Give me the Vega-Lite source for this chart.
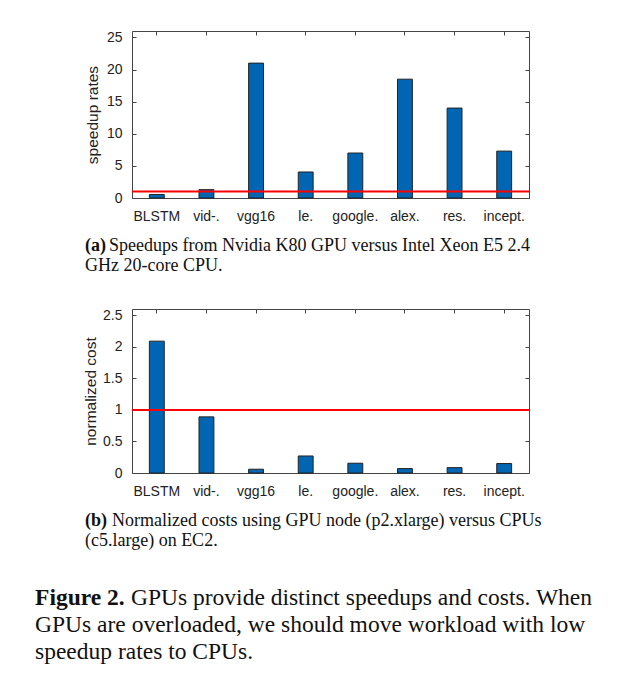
{
  "$schema": "https://vega.github.io/schema/vega-lite/v6.json",
  "background": "white",
  "padding": {"left": 35, "top": 29, "right": 5, "bottom": 5},
  "datasets": {
    "speedup": [
      {"model": "BLSTM", "value": 0.55},
      {"model": "vid-.", "value": 1.3},
      {"model": "vgg16", "value": 21.0},
      {"model": "le.", "value": 4.05},
      {"model": "google.", "value": 7.0},
      {"model": "alex.", "value": 18.5},
      {"model": "res.", "value": 14.0},
      {"model": "incept.", "value": 7.3}
    ],
    "cost": [
      {"model": "BLSTM", "value": 2.09},
      {"model": "vid-.", "value": 0.89},
      {"model": "vgg16", "value": 0.06},
      {"model": "le.", "value": 0.27},
      {"model": "google.", "value": 0.155},
      {"model": "alex.", "value": 0.07},
      {"model": "res.", "value": 0.085},
      {"model": "incept.", "value": 0.15}
    ],
    "baseline": [{"level": 1}]
  },
  "config": {
    "view": {"stroke": "#444", "strokeWidth": 1},
    "axis": {
      "labelFont": "Liberation Sans",
      "labelFontSize": 14,
      "labelColor": "#222",
      "titleFont": "Liberation Sans",
      "titleFontSize": 15.5,
      "titleFontWeight": "normal",
      "titleColor": "#222",
      "domain": false,
      "grid": false,
      "tickColor": "#444",
      "tickSize": -4,
      "zindex": 1
    },
    "title": {
      "font": "Liberation Serif",
      "subtitleFont": "Liberation Serif",
      "color": "#111",
      "subtitleColor": "#111",
      "fontWeight": "bold",
      "subtitleFontWeight": "normal"
    }
  },
  "title": {
    "text": "Figure 2.",
    "subtitle": [
      "\u200b\u2003\u2003\u2003\u2003\u200aGPUs provide distinct speedups and costs. When",
      "GPUs are overloaded, we should move workload with low",
      "speedup rates to CPUs."
    ],
    "orient": "bottom",
    "anchor": "start",
    "frame": "bounds",
    "fontSize": 23.5,
    "subtitleFontSize": 23.5,
    "lineHeight": 27,
    "subtitleLineHeight": 27,
    "subtitlePadding": -23.5,
    "offset": 35,
    "dx": -48
  },
  "spacing": 31,
  "vconcat": [
    {
      "width": 397,
      "height": 167,
      "title": {
        "text": "(a)",
        "subtitle": [
          "\u200b\u00a0\u00a0\u00a0\u00a0\u00a0\u200aSpeedups from Nvidia K80 GPU versus Intel Xeon E5 2.4",
          "GHz 20-core CPU."
        ],
        "orient": "bottom",
        "anchor": "start",
        "frame": "group",
        "fontSize": 18,
        "subtitleFontSize": 18,
        "lineHeight": 20,
        "subtitleLineHeight": 20,
        "subtitlePadding": -18,
        "offset": 14,
        "dx": -47
      },
      "layer": [
        {
          "data": {"name": "speedup"},
          "mark": {"type": "bar", "width": {"band": 0.3}, "fill": "#0066b3", "stroke": "#222", "strokeWidth": 1},
          "encoding": {
            "x": {"field": "model", "type": "nominal", "sort": null,
                  "scale": {"paddingInner": 0, "paddingOuter": 0},
                  "axis": {"orient": "bottom", "title": null, "labelAngle": 0, "labelPadding": 15}},
            "y": {"field": "value", "type": "quantitative",
                  "scale": {"domain": [0, 25]},
                  "axis": {"orient": "left", "title": "speedup rates", "values": [0, 5, 10, 15, 20, 25], "labelPadding": 14, "titlePadding": 6}}
          }
        },
        {
          "data": {"name": "speedup"},
          "mark": {"type": "bar", "opacity": 0},
          "encoding": {
            "x": {"field": "model", "type": "nominal", "sort": null,
                  "axis": {"orient": "top", "title": null, "labels": false}},
            "y": {"field": "value", "type": "quantitative",
                  "axis": {"orient": "right", "title": null, "labels": false, "values": [0, 5, 10, 15, 20, 25]}}
          }
        },
        {
          "data": {"name": "baseline"},
          "mark": {"type": "rule", "color": "#ff0000", "strokeWidth": 2},
          "encoding": {
            "y": {"field": "level", "type": "quantitative", "axis": null}
          }
        }
      ],
      "resolve": {"axis": {"x": "independent", "y": "independent"}}
    },
    {
      "width": 397,
      "height": 164,
      "title": {
        "text": "(b)",
        "subtitle": [
          "\u200b\u00a0\u00a0\u00a0\u00a0\u00a0\u00a0Normalized costs using GPU node (p2.xlarge) versus CPUs",
          "(c5.large) on EC2."
        ],
        "orient": "bottom",
        "anchor": "start",
        "frame": "group",
        "fontSize": 18,
        "subtitleFontSize": 18,
        "lineHeight": 20,
        "subtitleLineHeight": 20,
        "subtitlePadding": -18,
        "offset": 14,
        "dx": -47
      },
      "layer": [
        {
          "data": {"name": "cost"},
          "mark": {"type": "bar", "width": {"band": 0.3}, "fill": "#0066b3", "stroke": "#222", "strokeWidth": 1},
          "encoding": {
            "x": {"field": "model", "type": "nominal", "sort": null,
                  "scale": {"paddingInner": 0, "paddingOuter": 0},
                  "axis": {"orient": "bottom", "title": null, "labelAngle": 0, "labelPadding": 15}},
            "y": {"field": "value", "type": "quantitative",
                  "scale": {"domain": [0, 2.5]},
                  "axis": {"orient": "left", "title": "normalized cost", "values": [0, 0.5, 1, 1.5, 2, 2.5], "format": ".1~f", "labelPadding": 14, "titlePadding": 4}}
          }
        },
        {
          "data": {"name": "cost"},
          "mark": {"type": "bar", "opacity": 0},
          "encoding": {
            "x": {"field": "model", "type": "nominal", "sort": null,
                  "axis": {"orient": "top", "title": null, "labels": false}},
            "y": {"field": "value", "type": "quantitative",
                  "axis": {"orient": "right", "title": null, "labels": false, "values": [0, 0.5, 1, 1.5, 2, 2.5]}}
          }
        },
        {
          "data": {"name": "baseline"},
          "mark": {"type": "rule", "color": "#ff0000", "strokeWidth": 2},
          "encoding": {
            "y": {"field": "level", "type": "quantitative", "axis": null}
          }
        }
      ],
      "resolve": {"axis": {"x": "independent", "y": "independent"}}
    }
  ]
}
